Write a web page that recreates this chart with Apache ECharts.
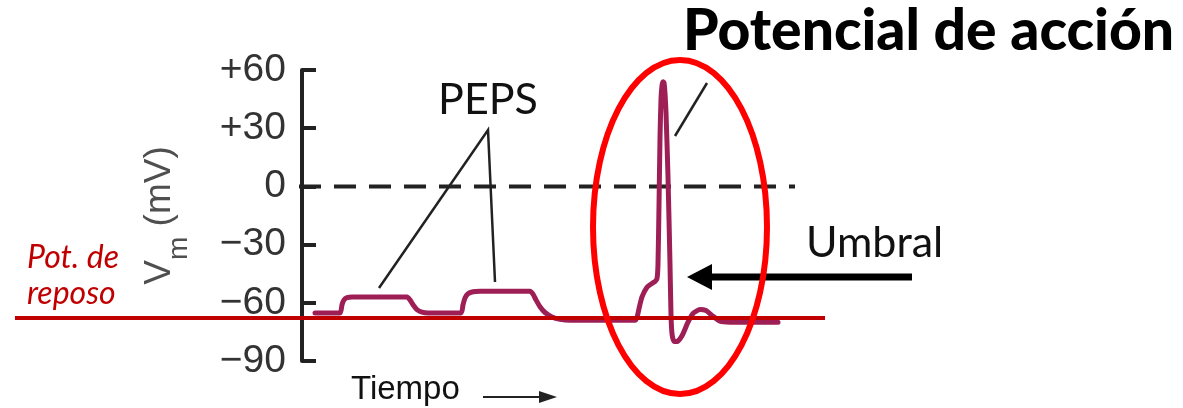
<!DOCTYPE html>
<html>
<head>
<meta charset="utf-8">
<script src="https://cdn.jsdelivr.net/npm/echarts@6/dist/echarts.min.js"></script>
<style>
  html, body { margin: 0; padding: 0; background: #fff; }
  #chart { width: 1183px; height: 408px; }
</style>
</head>
<body>
<div id="chart"></div>
<script>
// Membrane potential (mV) against time (arbitrary units, 0 = the Vm axis)
const yTickValues = [-90, -60, -30, 0, 30, 60];
const restingPotential = -67.8;   // "Pot. de reposo"
const zeroLineSpan = [-3, 493];
const timeSpan = [-287, 523];

// Recorded trace: two EPSPs followed by an action potential
const traceTime = [13, 38, 40, 42, 45, 50, 105, 108, 111, 115, 120, 126, 159,
  161, 163, 166, 171, 178, 228, 231, 234, 238, 243, 250, 258, 268, 333,
  335, 337, 340, 345, 350, 353, 355, 356, 357, 358, 359, 360, 361, 362, 363,
  364, 366, 368, 369, 370, 372, 375, 380, 386, 391, 398, 404, 410, 418, 428, 476];
const traceVm = [-65.2, -65.2, -61, -58.5, -57.3, -57, -57, -58.5, -61, -63.5, -64.8, -65.2, -65.2,
  -61, -57.5, -55.3, -54.3, -54, -54, -55.5, -58.5, -62, -65, -67.3, -68.5, -69, -69,
  -67.5, -63, -57, -52, -50, -49, -47.5, -40, -10, 25, 45, 52, 54, 53.5, 48,
  38, 5, -40, -66, -76, -80, -80, -77, -70, -65.5, -63.5, -64, -66.5, -69.5, -70, -70];

const traceData = traceTime.map((t, i) => [t, traceVm[i]]);

function tickLabel(v) {
  if (v > 0) return '+' + v;
  if (v < 0) return '\u2212' + Math.abs(v);
  return '0';
}

const chart = echarts.init(document.getElementById('chart'), null, { renderer: 'canvas' });

const gridLeft = 15, gridWidth = 810;
// shift the Vm axis into the plot so it sits at time 0
const axisShift = gridWidth * (0 - timeSpan[0]) / (timeSpan[1] - timeSpan[0]);

const nameFont = 'Liberation Sans, Arial, sans-serif';

const option = {
  animation: false,
  backgroundColor: '#ffffff',
  grid: { left: gridLeft, width: gridWidth, top: 70, bottom: 47, containLabel: false, outerBoundsMode: 'none' },
  xAxis: {
    type: 'value',
    min: timeSpan[0],
    max: timeSpan[1],
    show: false
  },
  yAxis: {
    type: 'value',
    min: yTickValues[0],
    max: yTickValues[yTickValues.length - 1],
    interval: 30,
    offset: -axisShift,
    name: '{v|V}{s|m}{p| (mV)}',
    nameLocation: 'middle',
    nameRotate: 90,
    nameGap: 109,
    nameTextStyle: {
      color: '#4f4f4f',
      fontFamily: nameFont,
      rich: {
        v: { fontSize: 37, color: '#4f4f4f', fontFamily: nameFont, padding: [0, 0, 15, 0], verticalAlign: 'bottom' },
        s: { fontSize: 28, color: '#4f4f4f', fontFamily: nameFont, verticalAlign: 'bottom' },
        p: { fontSize: 37, color: '#4f4f4f', fontFamily: nameFont, padding: [0, 0, 15, 0], verticalAlign: 'bottom' }
      }
    },
    axisLine: { show: true, onZero: false, lineStyle: { color: '#222', width: 4 } },
    axisTick: { show: true, inside: true, length: 14, lineStyle: { color: '#222', width: 4 } },
    axisLabel: {
      margin: 16,
      color: '#333',
      fontSize: 39,
      fontFamily: 'Liberation Sans, Arial, sans-serif',
      formatter: tickLabel
    },
    splitLine: { show: false }
  },
  series: [
    {
      name: 'Vm',
      type: 'line',
      data: traceData,
      showSymbol: false,
      smooth: 0.2,
      z: 3,
      lineStyle: { color: '#9e1f55', width: 5, cap: 'round', join: 'round' }
    },
    {
      name: '0 mV',
      type: 'line',
      data: [[zeroLineSpan[0], 0], [zeroLineSpan[1], 0]],
      showSymbol: false,
      z: 2,
      lineStyle: { color: '#222', width: 4, type: [22, 13] }
    },
    {
      name: 'reposo',
      type: 'line',
      data: [[timeSpan[0], restingPotential], [timeSpan[1], restingPotential]],
      showSymbol: false,
      z: 4,
      lineStyle: { color: '#c00000', width: 4 }
    }
  ],
  graphic: [
    { type: 'text', z: 20, style: { text: 'Potencial de acción', x: 683, y: 32, verticalAlign: 'middle',
      font: '900 57px Lato, sans-serif', fill: '#000' } },
    { type: 'text', z: 20, style: { text: 'PEPS', x: 488, y: 100, align: 'center', verticalAlign: 'middle',
      font: '43px Lato, sans-serif', fill: '#111' } },
    { type: 'polyline', z: 20, shape: { points: [[379, 288], [488, 130], [495, 282]] },
      style: { stroke: '#222', lineWidth: 2.5, fill: null } },
    { type: 'line', z: 20, shape: { x1: 707, y1: 83, x2: 675, y2: 136 },
      style: { stroke: '#222', lineWidth: 2.5 } },
    { type: 'text', z: 20, style: { text: 'Umbral', x: 806, y: 243, verticalAlign: 'middle',
      font: '43px Lato, sans-serif', fill: '#111' } },
    { type: 'line', z: 20, shape: { x1: 912, y1: 277, x2: 705, y2: 277 },
      style: { stroke: '#000', lineWidth: 7 } },
    { type: 'polygon', z: 20, shape: { points: [[687, 277], [712, 264], [712, 290]] },
      style: { fill: '#000' } },
    { type: 'text', z: 20, style: { text: 'Tiempo', x: 351, y: 390, verticalAlign: 'middle',
      font: '33px Liberation Sans, Arial, sans-serif', fill: '#111' } },
    { type: 'line', z: 20, shape: { x1: 483, y1: 397, x2: 545, y2: 397 },
      style: { stroke: '#222', lineWidth: 2 } },
    { type: 'polygon', z: 20, shape: { points: [[557, 397], [539, 391], [539, 403]] },
      style: { fill: '#222' } },
    { type: 'text', z: 20, style: { text: 'Pot. de', x: 27, y: 258, verticalAlign: 'middle',
      font: 'italic 32px Lato, sans-serif', fill: '#c00000' } },
    { type: 'text', z: 20, style: { text: 'reposo', x: 27, y: 294, verticalAlign: 'middle',
      font: 'italic 32px Lato, sans-serif', fill: '#c00000' } },
    { type: 'ellipse', z: 30, shape: { cx: 680, cy: 227, rx: 87, ry: 167 },
      style: { stroke: '#ff0000', lineWidth: 6, fill: null } }
  ]
};

chart.setOption(option);
</script>
</body>
</html>
